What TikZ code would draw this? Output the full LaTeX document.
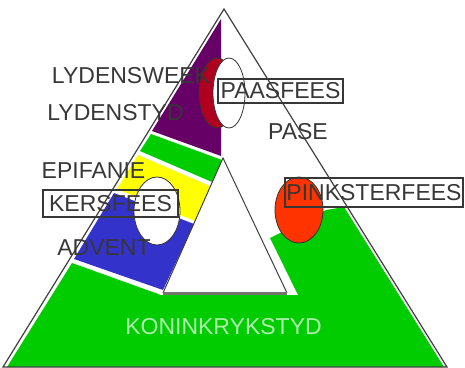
\documentclass[tikz,border=0pt]{standalone}
\usepackage{fontspec}
\setmainfont{Liberation Sans}
\usepackage{tikz}
\usetikzlibrary{positioning}
\definecolor{kgreen}{RGB}{0,204,0}
\definecolor{kpurple}{RGB}{102,0,102}
\definecolor{kyellow}{RGB}{255,255,0}
\definecolor{kblue}{RGB}{51,51,204}
\definecolor{kcrimson}{RGB}{176,0,32}
\definecolor{korange}{RGB}{255,51,0}
\definecolor{ktext}{RGB}{55,55,55}
\definecolor{klight}{RGB}{175,240,175}

\begin{document}
\begin{tikzpicture}[x=1pt,y=-1pt,
  lab/.style={font=\fontsize{23}{23}\selectfont,text=ktext,inner sep=0pt},
  feast/.style={lab,draw=ktext,line width=1.4pt,inner sep=0pt},
  edge/.style={draw=black!75,line width=1.2pt}]
\useasboundingbox (0,0) rectangle (465,367);
% seasons
\fill[kpurple] (221,19) -- (221,156) -- (152,131) -- cycle;
\fill[kgreen] (151,134) -- (222,160) -- (212,182) -- (140,151) -- cycle;
\fill[kyellow] (138,155) -- (210,186) -- (195,221) -- (117,189) -- cycle;
\fill[kblue] (114,193) -- (194,224) -- (163,290) -- (74,259) -- cycle;
\fill[kgreen] (72,263) -- (161,295) -- (298,295) -- (270,238) -- (326,210)
  -- (344,207) -- (444,367) -- (7,367) -- cycle;
% feasts
\draw[fill=kcrimson,draw=black!80,line width=0.8pt] (217,93) ellipse [x radius=18,y radius=35];
\draw[fill=white,draw=black!80,line width=0.8pt] (229,93) ellipse [x radius=16,y radius=35];
\draw[fill=white,draw=black!80,line width=0.8pt] (157,211) ellipse [x radius=23,y radius=34];
\draw[fill=korange,draw=black!80,line width=0.8pt] (299,210) ellipse [x radius=24,y radius=33];
% triangles
\draw[edge] (224,9) -- (3,367) -- (447,367) -- cycle;
\draw[edge,line width=1pt] (163,293) -- (223,158) -- (287,293);
\draw[black!55,line width=3pt] (163,293) -- (287,293);
% labels
\node[lab] (lweek) at (131,76) {LYDENSWEEK};
\node[lab] (ltyd) at (115.5,113) {LYDENSTYD};
\node[lab] (epi) at (93.5,171) {EPIFANIE};
\node[lab] (adv) at (104,248) {ADVENT};
\node[lab] (pase) at (298,132) {PASE};
\node[lab,text=klight] (kon) at (223.5,327) {KONINKRYKSTYD};
\node[feast,minimum width=125,minimum height=24] (paas) at (280.5,91) {PAASFEES};
\node[feast,minimum width=135,minimum height=27] (kers) at (110.5,203.5) {KERSFEES};
\node[feast,minimum width=178,minimum height=29] (pink) at (374,192.5) {PINKSTERFEES};
\end{tikzpicture}
\end{document}
